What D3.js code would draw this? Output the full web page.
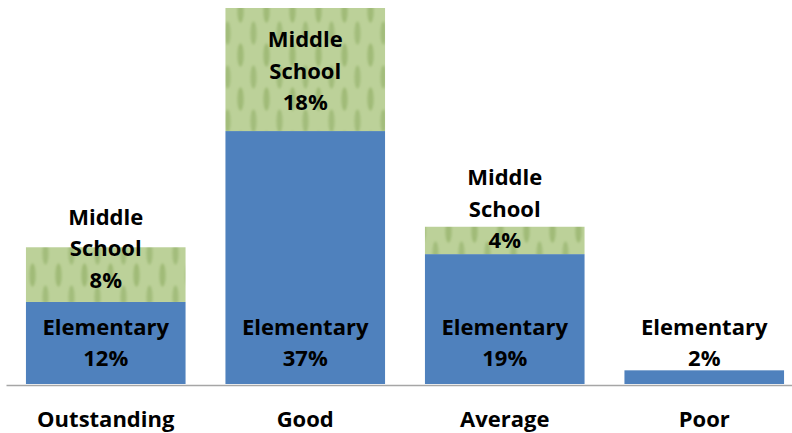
<!DOCTYPE html>
<html>
<head>
<meta charset="utf-8">
<script src="https://cdn.jsdelivr.net/npm/d3@7/dist/d3.min.js"></script>
<style>
  html, body { margin: 0; padding: 0; background: #fff; }
  svg { display: block; }
</style>
</head>
<body>
<svg id="chart" width="792" height="433"></svg>
<script>
// School ratings: share of schools by rating, stacked by level
const categories = ["Outstanding", "Good", "Average", "Poor"];
const seriesNames = ["Elementary", "Middle School"];
const elementary = [12, 37, 19, 2];
const middleSchool = [8, 18, 4, 0];

const svg = d3.select("#chart");

const rows = categories.map((c, i) => ({
  category: c,
  "Elementary": elementary[i],
  "Middle School": middleSchool[i]
}));

const x = d3.scaleBand()
  .domain(categories)
  .range([6, 804])
  .paddingInner(0.2)
  .paddingOuter(0.1);

const y = d3.scaleLinear()
  .domain([0, 55])
  .range([384, 8]);

// Leaf texture for the middle school segments
const defs = svg.append("defs");
const blur = defs.append("filter").attr("id", "soft")
  .attr("x", "-20%").attr("y", "-20%").attr("width", "140%").attr("height", "140%");
blur.append("feGaussianBlur").attr("stdDeviation", 1.2);

const pat = defs.append("pattern")
  .attr("id", "leaf")
  .attr("patternUnits", "userSpaceOnUse")
  .attr("width", 26)
  .attr("height", 44);
pat.append("rect").attr("width", 26).attr("height", 44).attr("fill", "#bcd199");
const leafG = pat.append("g").attr("filter", "url(#soft)");
const leaves = [
  [6.5, 11, 0.7], [19.5, 33, 0.6], [6.5, 55, 0.7], [19.5, -11, 0.6],
  [6.5, -33, 0.7], [19.5, 77, 0.6]
];
leafG.selectAll("ellipse").data(leaves).join("ellipse")
  .attr("cx", d => d[0]).attr("cy", d => d[1])
  .attr("rx", 3.4).attr("ry", 12)
  .attr("fill", "#9ab66f")
  .attr("opacity", d => d[2]);
leafG.selectAll("line").data(leaves).join("line")
  .attr("x1", d => d[0]).attr("x2", d => d[0])
  .attr("y1", d => d[1] - 9).attr("y2", d => d[1] + 9)
  .attr("stroke", "#89a760").attr("stroke-width", 1).attr("opacity", 0.45);

const fills = { "Elementary": "#4f81bd", "Middle School": "url(#leaf)" };

const stacked = d3.stack().keys(seriesNames)(rows);

svg.append("g").selectAll("g")
  .data(stacked)
  .join("g")
  .attr("fill", s => fills[s.key])
  .selectAll("rect")
  .data(s => s.filter(d => d[1] - d[0] > 0))
  .join("rect")
  .attr("x", d => x(d.data.category))
  .attr("y", d => y(d[1]))
  .attr("width", x.bandwidth())
  .attr("height", d => y(d[0]) - y(d[1]));

// Baseline axis
const axis = svg.append("g").attr("transform", `translate(0,${y(0) + 1})`)
  .call(d3.axisBottom(x).tickSize(0).tickPadding(0));
axis.select(".domain").attr("stroke", "#a6a6a6").attr("stroke-width", 1.6);
axis.selectAll(".tick text").remove();

const font = "'Open Sans', 'Liberation Sans', sans-serif";
const fontSize = 22;
const lineH = 31.5;

// Category labels under the axis
svg.append("g").selectAll("text")
  .data(categories)
  .join("text")
  .attr("x", c => x(c) + x.bandwidth() / 2)
  .attr("y", 427)
  .attr("text-anchor", "middle")
  .attr("font-family", font)
  .attr("font-weight", 700)
  .attr("font-size", fontSize)
  .attr("fill", "#000")
  .text(c => c);

// Value labels
function drawLabel(cx, lastY, lines) {
  const t = svg.append("text")
    .attr("text-anchor", "middle")
    .attr("font-family", font)
    .attr("font-weight", 700)
    .attr("font-size", fontSize)
    .attr("fill", "#000");
  lines.forEach((ln, i) => {
    t.append("tspan")
      .attr("x", cx)
      .attr("y", lastY - (lines.length - 1 - i) * lineH)
      .attr("dominant-baseline", "central")
      .text(ln);
  });
}

rows.forEach(r => {
  const cx = x(r.category) + x.bandwidth() / 2;
  // elementary labels sit just above the baseline
  if (r["Elementary"] > 0) {
    drawLabel(cx, y(0) - 27, ["Elementary", r["Elementary"] + "%"]);
  }
  // middle school labels: centred in a tall segment, otherwise anchored near its middle
  if (r["Middle School"] > 0) {
    const top = y(r["Elementary"] + r["Middle School"]);
    const bottom = y(r["Elementary"]);
    const h = bottom - top;
    const mid = (top + bottom) / 2;
    const last = h >= 3 * lineH ? mid + lineH : mid + (h - 33) / 5;
    drawLabel(cx, last, ["Middle", "School", r["Middle School"] + "%"]);
  }
});
</script>
</body>
</html>
